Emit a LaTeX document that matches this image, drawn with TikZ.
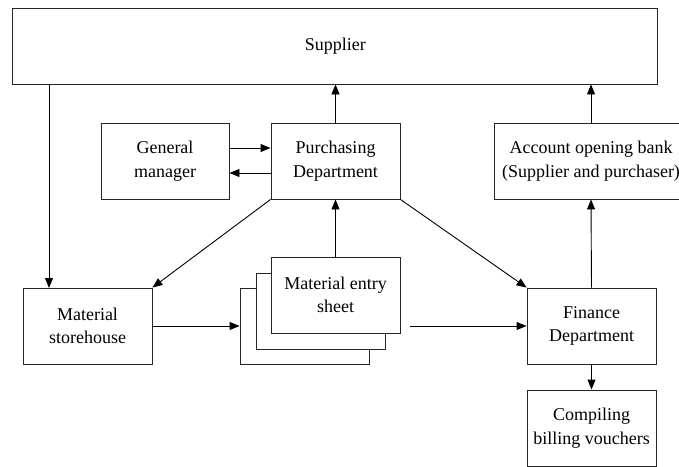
\documentclass[tikz,border=0pt]{standalone}
\usepackage{fontspec}
\setmainfont{Liberation Serif}
\usetikzlibrary{arrows.meta}
\begin{document}
\begin{tikzpicture}[x=1pt,y=-1pt,
  every node/.style={font=\fontsize{18}{23.5}\selectfont},
  box/.style={draw=black!85, line width=0.9pt, rectangle, align=center,
    minimum width=129pt, minimum height=76pt, inner sep=0pt, fill=white},
  arr/.style={draw=black, line width=0.9pt, -{Triangle[length=10pt,width=8pt]}}]
\useasboundingbox (0,0) rectangle (679,466);

% boxes
\node[box, minimum width=645pt] (sup) at (335.3,46) {Supplier};
\node[box, minimum width=128pt] (gm) at (165,161) {General\\manager};
\node[box] (pd) at (335.5,161) {Purchasing\\Department};
\node[box, minimum width=194pt] (bank) at (591,161) {Account opening bank\\(Supplier and purchaser)};
\node[box] (sh) at (87.5,326) {Material\\storehouse};
\node[box] (sheetc) at (304.5,326) {};
\node[box] (sheetb) at (320.5,311) {};
\node[box] (sheeta) at (335.5,295) {Material entry\\sheet};
\node[box] (fin) at (591.5,326) {Finance\\Department};
\node[box] (comp) at (591.5,428) {Compiling\\billing vouchers};

% connectors
\coordinate (sa) at (49,288);
\draw[arr] (sa |- sup.south) -- (sa);
\draw[arr] (pd.north) -- (pd.north |- sup.south);
\draw[arr] (bank.north) -- (bank.north |- sup.south);
\draw[arr] ([yshift=13pt]gm.east) -- ([yshift=13pt]pd.west);
\draw[arr] ([yshift=-12pt]pd.west) -- ([yshift=-12pt]gm.east);
\draw[arr] (pd.south west) -- (sh.north east);
\draw[arr] (pd.south east) -- (fin.north west);
\draw[arr] (sheeta.north) -- (pd.south);
\draw[arr] (sh.east) -- (sheetc.west);
\draw[arr] ([xshift=10pt]sheeta.east |- fin.west) -- (fin.west);
\draw[arr] (fin.north) -- (bank.south);
\draw[arr] (fin.south) -- (comp.north);
\end{tikzpicture}
\end{document}
